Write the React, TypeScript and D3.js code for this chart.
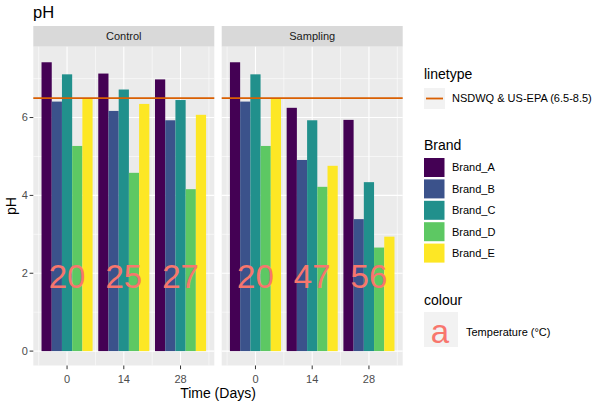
import React from 'react';
import * as d3 from 'd3';

const WIDTH = 600;
const HEIGHT = 407;

const days = [0, 14, 28];
const facets = ['Control', 'Sampling'];
const brands = ['Brand_A', 'Brand_B', 'Brand_C', 'Brand_D', 'Brand_E'];
const brandColors = ['#440154', '#3B528B', '#21908C', '#5DC863', '#FDE725'];

// pH per day (rows) and brand (columns)
const controlPH = [
  [7.42, 6.41, 7.11, 5.27, 6.5],
  [7.13, 6.17, 6.72, 4.58, 6.35],
  [6.98, 5.93, 6.45, 4.16, 6.07],
];
const samplingPH = [
  [7.42, 6.41, 7.11, 5.27, 6.5],
  [6.25, 4.91, 5.93, 4.22, 4.76],
  [5.94, 3.39, 4.34, 2.66, 2.94],
];
const controlTemp = [20, 25, 27];
const samplingTemp = [20, 47, 56];
const tempLabelY = 2;
const standardPH = 6.5;

const yTicks = [0, 2, 4, 6];
const yMinor = [1, 3, 5, 7];
const xMinor = [-7, 7, 21, 35];

const PANEL_TOP = 46.7;
const PANEL_BOTTOM = 365.5;
const PANEL_W = 181;
const PANEL_X = [33.3, 221.7];
const STRIP_TOP = 26;

const FONT = 'Liberation Sans, Arial, sans-serif';
const LINE_COLOR = '#D95F02';
const TEXT_COLOR = '#F8766D';

const Panel = ({ x0, name, values, temps }: { x0: number; name: string; values: number[][]; temps: number[] }) => {
  const xScale = d3.scaleLinear().domain([-8.33, 36.33]).range([x0, x0 + PANEL_W]);
  const yScale = d3.scaleLinear().domain([-0.37, 7.82]).range([PANEL_BOTTOM, PANEL_TOP]);
  const groupW = 0.9 * 14;
  const band = d3.scaleBand<string>().domain(brands).range([-groupW / 2, groupW / 2]);

  return (
    <g>
      <rect x={x0} y={STRIP_TOP} width={PANEL_W} height={PANEL_TOP - STRIP_TOP} fill="#D9D9D9" />
      <text x={x0 + PANEL_W / 2} y={(STRIP_TOP + PANEL_TOP) / 2} dy="0.35em" textAnchor="middle"
        fontSize={11} fill="#1A1A1A" fontFamily={FONT}>{name}</text>
      <rect x={x0} y={PANEL_TOP} width={PANEL_W} height={PANEL_BOTTOM - PANEL_TOP} fill="#EBEBEB" />
      {yMinor.map((t) => (
        <line key={'ym' + t} x1={x0} x2={x0 + PANEL_W} y1={yScale(t)} y2={yScale(t)} stroke="#fff" strokeWidth={0.55} />
      ))}
      {xMinor.map((t) => (
        <line key={'xm' + t} x1={xScale(t)} x2={xScale(t)} y1={PANEL_TOP} y2={PANEL_BOTTOM} stroke="#fff" strokeWidth={0.55} />
      ))}
      {yTicks.map((t) => (
        <line key={'y' + t} x1={x0} x2={x0 + PANEL_W} y1={yScale(t)} y2={yScale(t)} stroke="#fff" strokeWidth={1.1} />
      ))}
      {days.map((t) => (
        <line key={'x' + t} x1={xScale(t)} x2={xScale(t)} y1={PANEL_TOP} y2={PANEL_BOTTOM} stroke="#fff" strokeWidth={1.1} />
      ))}
      {days.map((d, di) =>
        brands.map((b, bi) => (
          <rect key={d + b} x={xScale(d + (band(b) as number))} width={xScale(band.bandwidth()) - xScale(0)}
            y={yScale(values[di][bi])} height={yScale(0) - yScale(values[di][bi])} fill={brandColors[bi]} />
        ))
      )}
      <line x1={x0} x2={x0 + PANEL_W} y1={yScale(standardPH)} y2={yScale(standardPH)} stroke={LINE_COLOR} strokeWidth={1.8} />
      {days.map((d, di) => (
        <text key={'t' + d} x={xScale(d)} y={yScale(tempLabelY)} dy={15} textAnchor="middle" fontSize={33}
          fill={TEXT_COLOR} fontFamily={FONT}>{temps[di]}</text>
      ))}
      {days.map((d) => (
        <g key={'xt' + d}>
          <line x1={xScale(d)} x2={xScale(d)} y1={PANEL_BOTTOM} y2={PANEL_BOTTOM + 3.7} stroke="#333" strokeWidth={1} />
          <text x={xScale(d)} y={PANEL_BOTTOM + 17.5} textAnchor="middle" fontSize={11} fill="#4D4D4D" fontFamily={FONT}>{d}</text>
        </g>
      ))}
    </g>
  );
};

const App = () => {
  const yScale = d3.scaleLinear().domain([-0.37, 7.82]).range([PANEL_BOTTOM, PANEL_TOP]);
  const legendX = 424;
  const brandKeyY = 158;
  const keyStep = 21.4;

  return (
    <svg width={WIDTH} height={HEIGHT} style={{ position: 'absolute', left: 0, top: 0, background: '#fff' }}>
      <rect width={WIDTH} height={HEIGHT} fill="#fff" />
      <text x={33} y={17.5} fontSize={16.5} fill="#000" fontFamily={FONT}>pH</text>

      <Panel x0={PANEL_X[0]} name={facets[0]} values={controlPH} temps={controlTemp} />
      <Panel x0={PANEL_X[1]} name={facets[1]} values={samplingPH} temps={samplingTemp} />

      {/* y axis */}
      {yTicks.map((t) => (
        <g key={t}>
          <line x1={PANEL_X[0] - 3.7} x2={PANEL_X[0]} y1={yScale(t)} y2={yScale(t)} stroke="#333" strokeWidth={1} />
          <text x={PANEL_X[0] - 5.5} y={yScale(t)} dy="0.35em" textAnchor="end" fontSize={11} fill="#4D4D4D" fontFamily={FONT}>{t}</text>
        </g>
      ))}
      <text transform={`translate(16, ${(PANEL_TOP + PANEL_BOTTOM) / 2}) rotate(-90)`} textAnchor="middle"
        fontSize={14} fill="#000" fontFamily={FONT}>pH</text>
      <text x={(PANEL_X[0] + PANEL_X[1] + PANEL_W) / 2} y={398} textAnchor="middle" fontSize={14} fill="#000" fontFamily={FONT}>Time (Days)</text>

      {/* legends */}
      <text x={legendX} y={79} fontSize={14} fill="#000" fontFamily={FONT}>linetype</text>
      <rect x={legendX} y={88} width={21} height={21} fill="#F2F2F2" />
      <line x1={legendX + 2} x2={legendX + 19} y1={98.5} y2={98.5} stroke={LINE_COLOR} strokeWidth={1.8} />
      <text x={452} y={98.5} dy="0.35em" fontSize={11} fill="#000" fontFamily={FONT}>NSDWQ &amp; US-EPA (6.5-8.5)</text>

      <text x={legendX} y={150} fontSize={14} fill="#000" fontFamily={FONT}>Brand</text>
      {brands.map((b, i) => (
        <g key={b}>
          <rect x={legendX} y={brandKeyY + i * keyStep} width={20.5} height={19} fill={brandColors[i]} />
          <text x={452} y={brandKeyY + i * keyStep + 9.5} dy="0.35em" fontSize={11} fill="#000" fontFamily={FONT}>{b}</text>
        </g>
      ))}

      <text x={legendX} y={305} fontSize={14} fill="#000" fontFamily={FONT}>colour</text>
      <rect x={legendX} y={312} width={34} height={35} fill="#F2F2F2" />
      <text x={legendX + 16} y={343} textAnchor="middle" fontSize={33} fill={TEXT_COLOR} fontFamily={FONT}>a</text>
      <text x={466} y={332} dy="0.35em" fontSize={11} fill="#000" fontFamily={FONT}>Temperature (°C)</text>
    </svg>
  );
};

export default App;
